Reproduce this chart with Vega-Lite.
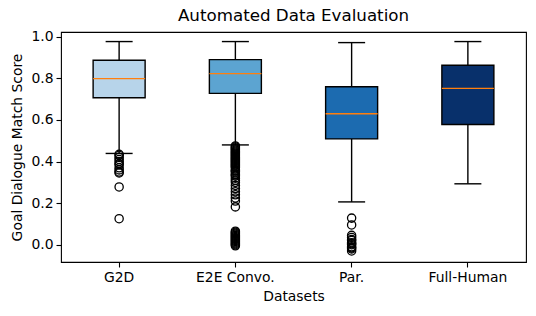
{
  "$schema": "https://vega.github.io/schema/vega-lite/v6.json",
  "width": 465,
  "height": 230,
  "autosize": {"type": "none"},
  "padding": {"left": 61, "top": 32, "right": 10, "bottom": 54},
  "background": "white",
  "title": {"text": "Automated Data Evaluation", "fontSize": 16.7, "fontWeight": "normal", "color": "black", "font": "DejaVu Sans", "offset": 5},
  "datasets": {
    "boxes": [
      {"dataset": "G2D", "lower": 0.439, "q1": 0.707, "median": 0.799, "q3": 0.887, "upper": 0.977},
      {"dataset": "E2E Convo.", "lower": 0.480, "q1": 0.728, "median": 0.823, "q3": 0.890, "upper": 0.977},
      {"dataset": "Par.", "lower": 0.206, "q1": 0.509, "median": 0.630, "q3": 0.760, "upper": 0.972},
      {"dataset": "Full-Human", "lower": 0.293, "q1": 0.578, "median": 0.752, "q3": 0.863, "upper": 0.977}
    ],
    "outliers": [
      {"dataset": "G2D", "score": 0.435}, {"dataset": "G2D", "score": 0.43}, {"dataset": "G2D", "score": 0.42},
      {"dataset": "G2D", "score": 0.41}, {"dataset": "G2D", "score": 0.40}, {"dataset": "G2D", "score": 0.39},
      {"dataset": "G2D", "score": 0.385}, {"dataset": "G2D", "score": 0.37}, {"dataset": "G2D", "score": 0.36},
      {"dataset": "G2D", "score": 0.35}, {"dataset": "G2D", "score": 0.345}, {"dataset": "G2D", "score": 0.278},
      {"dataset": "G2D", "score": 0.125},
      {"dataset": "E2E Convo.", "score": 0.475}, {"dataset": "E2E Convo.", "score": 0.47}, {"dataset": "E2E Convo.", "score": 0.465},
      {"dataset": "E2E Convo.", "score": 0.46}, {"dataset": "E2E Convo.", "score": 0.455}, {"dataset": "E2E Convo.", "score": 0.45},
      {"dataset": "E2E Convo.", "score": 0.445}, {"dataset": "E2E Convo.", "score": 0.44}, {"dataset": "E2E Convo.", "score": 0.435},
      {"dataset": "E2E Convo.", "score": 0.43}, {"dataset": "E2E Convo.", "score": 0.425}, {"dataset": "E2E Convo.", "score": 0.42},
      {"dataset": "E2E Convo.", "score": 0.415}, {"dataset": "E2E Convo.", "score": 0.41}, {"dataset": "E2E Convo.", "score": 0.405},
      {"dataset": "E2E Convo.", "score": 0.40}, {"dataset": "E2E Convo.", "score": 0.395}, {"dataset": "E2E Convo.", "score": 0.39},
      {"dataset": "E2E Convo.", "score": 0.385}, {"dataset": "E2E Convo.", "score": 0.38}, {"dataset": "E2E Convo.", "score": 0.375},
      {"dataset": "E2E Convo.", "score": 0.37}, {"dataset": "E2E Convo.", "score": 0.36}, {"dataset": "E2E Convo.", "score": 0.355},
      {"dataset": "E2E Convo.", "score": 0.35}, {"dataset": "E2E Convo.", "score": 0.34}, {"dataset": "E2E Convo.", "score": 0.335},
      {"dataset": "E2E Convo.", "score": 0.33}, {"dataset": "E2E Convo.", "score": 0.32}, {"dataset": "E2E Convo.", "score": 0.31},
      {"dataset": "E2E Convo.", "score": 0.30}, {"dataset": "E2E Convo.", "score": 0.285}, {"dataset": "E2E Convo.", "score": 0.27},
      {"dataset": "E2E Convo.", "score": 0.255}, {"dataset": "E2E Convo.", "score": 0.24}, {"dataset": "E2E Convo.", "score": 0.225},
      {"dataset": "E2E Convo.", "score": 0.21}, {"dataset": "E2E Convo.", "score": 0.182},
      {"dataset": "E2E Convo.", "score": 0.065}, {"dataset": "E2E Convo.", "score": 0.06}, {"dataset": "E2E Convo.", "score": 0.055},
      {"dataset": "E2E Convo.", "score": 0.05}, {"dataset": "E2E Convo.", "score": 0.045}, {"dataset": "E2E Convo.", "score": 0.04},
      {"dataset": "E2E Convo.", "score": 0.035}, {"dataset": "E2E Convo.", "score": 0.03}, {"dataset": "E2E Convo.", "score": 0.025},
      {"dataset": "E2E Convo.", "score": 0.02}, {"dataset": "E2E Convo.", "score": 0.015}, {"dataset": "E2E Convo.", "score": 0.01},
      {"dataset": "E2E Convo.", "score": 0.005}, {"dataset": "E2E Convo.", "score": 0.0}, {"dataset": "E2E Convo.", "score": -0.005},
      {"dataset": "Par.", "score": 0.128}, {"dataset": "Par.", "score": 0.095}, {"dataset": "Par.", "score": 0.045},
      {"dataset": "Par.", "score": 0.035}, {"dataset": "Par.", "score": 0.025}, {"dataset": "Par.", "score": 0.02},
      {"dataset": "Par.", "score": 0.01}, {"dataset": "Par.", "score": 0.005}, {"dataset": "Par.", "score": 0.0},
      {"dataset": "Par.", "score": -0.01}, {"dataset": "Par.", "score": -0.015}, {"dataset": "Par.", "score": -0.02},
      {"dataset": "Par.", "score": -0.03}
    ]
  },
  "encoding": {
    "x": {
      "field": "dataset", "type": "nominal",
      "sort": ["G2D", "E2E Convo.", "Par.", "Full-Human"],
      "scale": {"type": "band", "domain": ["G2D", "E2E Convo.", "Par.", "Full-Human"], "paddingInner": 0, "paddingOuter": 0},
      "axis": {"title": "Datasets", "labelAngle": 0, "titlePadding": 6}
    }
  },
  "layer": [
    {
      "data": {"name": "boxes"},
      "mark": {"type": "rule", "color": "black", "strokeWidth": 1.4},
      "encoding": {
        "y": {"field": "lower", "type": "quantitative",
          "scale": {"domain": [-0.083, 1.023], "nice": false, "zero": false},
          "axis": {"title": "Goal Dialogue Match Score", "values": [0, 0.2, 0.4, 0.6, 0.8, 1.0], "format": ".1f", "titlePadding": 6}},
        "y2": {"field": "upper"}
      }
    },
    {
      "data": {"name": "boxes"},
      "mark": {"type": "bar", "size": 52, "stroke": "black", "strokeWidth": 1.4, "opacity": 1},
      "encoding": {
        "y": {"field": "q1", "type": "quantitative"},
        "y2": {"field": "q3"},
        "fill": {"field": "dataset", "type": "nominal",
          "scale": {"domain": ["G2D", "E2E Convo.", "Par.", "Full-Human"], "range": ["#b7d4ea", "#5ca4d1", "#1c6bb0", "#08306b"]},
          "legend": null}
      }
    },
    {
      "data": {"name": "boxes"},
      "mark": {"type": "tick", "size": 52, "thickness": 1.4, "color": "#ff7f0e", "opacity": 1},
      "encoding": {"y": {"field": "median", "type": "quantitative"}}
    },
    {
      "data": {"name": "boxes"},
      "mark": {"type": "tick", "size": 27, "thickness": 1.4, "color": "black", "opacity": 1},
      "encoding": {"y": {"field": "lower", "type": "quantitative"}}
    },
    {
      "data": {"name": "boxes"},
      "mark": {"type": "tick", "size": 27, "thickness": 1.4, "color": "black", "opacity": 1},
      "encoding": {"y": {"field": "upper", "type": "quantitative"}}
    },
    {
      "data": {"name": "outliers"},
      "mark": {"type": "point", "shape": "circle", "filled": false, "stroke": "black", "strokeWidth": 1.3, "size": 68, "opacity": 1},
      "encoding": {"y": {"field": "score", "type": "quantitative"}}
    }
  ],
  "config": {
    "font": "DejaVu Sans",
    "view": {"stroke": "black", "strokeWidth": 1.1},
    "axis": {
      "domain": false, "grid": false,
      "tickColor": "black", "tickSize": 5, "tickWidth": 1.1,
      "labelFontSize": 13.9, "labelColor": "black", "labelPadding": 3, "labelFont": "DejaVu Sans",
      "titleFontSize": 13.9, "titleFontWeight": "normal", "titleColor": "black", "titleFont": "DejaVu Sans"
    }
  }
}
